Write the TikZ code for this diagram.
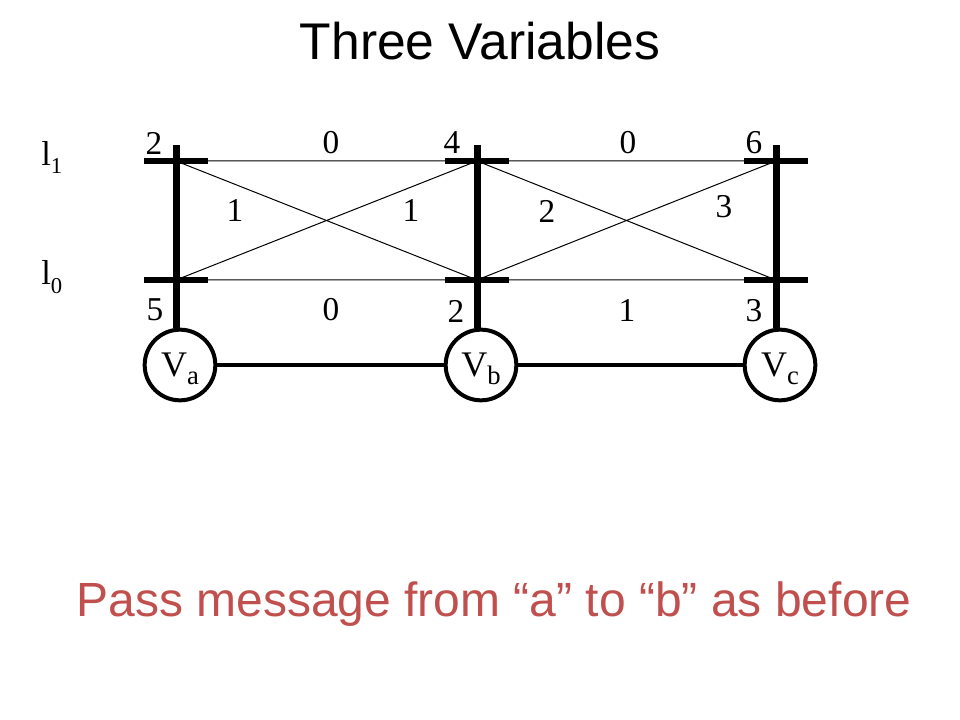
\documentclass[tikz,border=0pt]{standalone}
\usepackage{fontspec}
\setmainfont{Liberation Serif}
\newfontfamily\arialfont{Liberation Sans}
\newcommand{\subidx}[3]{\raisebox{-#1}{\fontsize{#2}{#2}\selectfont#3}}
\usepackage{tikz}
\definecolor{msgred}{RGB}{192,80,77}

\begin{document}
\begin{tikzpicture}[x=0.75pt,y=-0.75pt,line cap=butt]
	\tikzstyle{bar}=[line width=5.25pt];
	\tikzstyle{stub}=[line width=4pt];
	\tikzstyle{wire}=[line width=0.75pt];
	\tikzstyle{link}=[line width=3pt];
	\tikzstyle{var}=[circle,draw,line width=3pt,fill=white,minimum size=53pt,inner sep=0pt,text depth=0pt,font=\fontsize{27}{27}\selectfont];
	\tikzstyle{cost}=[inner sep=0pt,font=\fontsize{25}{25}\selectfont];
	\tikzstyle{level}=[inner sep=0pt,anchor=base west,font=\fontsize{26}{26}\selectfont];

	\useasboundingbox (0,0) rectangle (960,720);

	\node[anchor=base,font=\arialfont\fontsize{38.7}{40}\selectfont] (title) at (480,60) {Three Variables};

	\foreach \v/\x in {a/176,b/477,c/776}{
		\coordinate (top\v) at (\x,145);
		\coordinate (\v1) at (\x,161);
		\coordinate (\v0) at (\x,280);
	}

	\node[level] (l1) at (41,166) {l\subidx{6pt}{17}{1}};
	\node[level] (l0) at (41,285) {l\subidx{6pt}{17}{0}};

	\draw[wire] (a1) -- (b1) (a0) -- (b0) (a1) -- (b0) (a0) -- (b1);
	\draw[wire] (b1) -- (c1) (b0) -- (c0) (b1) -- (c0) (b0) -- (c1);

	\node[var] (va) at (180,365) {V\subidx{6pt}{20}{a}};
	\node[var] (vb) at (481,365) {V\subidx{6pt}{20}{b}};
	\node[var] (vc) at (780,365) {V\subidx{6pt}{20}{c}};

	\foreach \v in {a,b,c}{
		\draw[bar] (top\v) -- (top\v |- v\v.north);
		\draw[stub] (\v1) ++(-32,0) -- +(64,0);
		\draw[stub] (\v0) ++(-32,0) -- +(64,0);
	}

	\draw[link] (va) -- (vb);
	\draw[link] (vb) -- (vc);

	% unary costs
	\node[cost] (ua1) at (154,143) {2};
	\node[cost] (ua0) at (155,310) {5};
	\node[cost] (ub1) at (452,143) {4};
	\node[cost] (ub0) at (456,311) {2};
	\node[cost] (uc1) at (754,143) {6};
	\node[cost] (uc0) at (754,311) {3};
	% pairwise costs
	\node[cost] (pab11) at (331,143) {0};
	\node[cost] (pab10) at (235,210) {1};
	\node[cost] (pab01) at (411,210) {1};
	\node[cost] (pab00) at (331,310) {0};
	\node[cost] (pbc11) at (628,143) {0};
	\node[cost] (pbc10) at (547,211) {2};
	\node[cost] (pbc01) at (724,207) {3};
	\node[cost] (pbc00) at (627,310) {1};

	\node[anchor=base,text=msgred,font=\arialfont\fontsize{36}{38}\selectfont] (msg) at (494,616) {Pass message from “a” to “b” as before};
\end{tikzpicture}
\end{document}
